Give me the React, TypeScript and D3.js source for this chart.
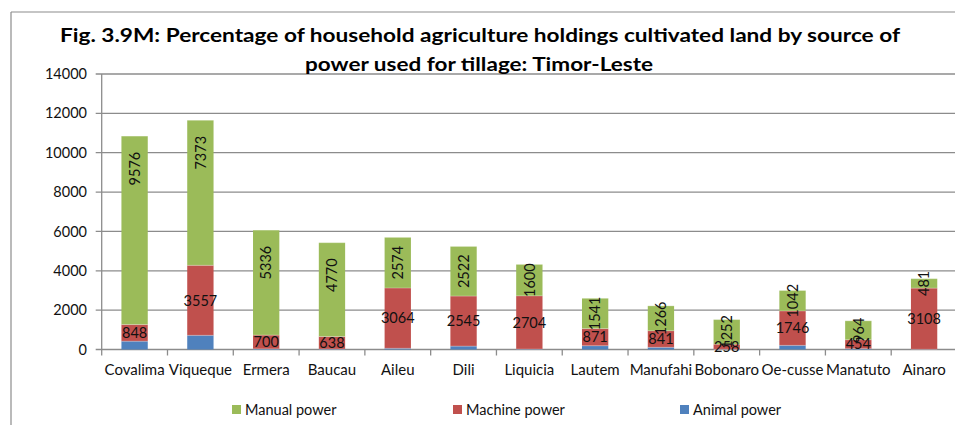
import React from "react";
import * as d3 from "d3";

const categories = ["Covalima", "Viqueque", "Ermera", "Baucau", "Aileu", "Dili", "Liquicia", "Lautem", "Manufahi", "Bobonaro", "Oe-cusse", "Manatuto", "Ainaro"];
const animalPower = [420, 720, 30, 20, 60, 170, 20, 190, 110, 10, 210, 40, 10];
const machinePower = [848, 3557, 700, 638, 3064, 2545, 2704, 871, 841, 258, 1746, 454, 3108];
const manualPower = [9576, 7373, 5336, 4770, 2574, 2522, 1600, 1541, 1266, 1252, 1042, 964, 481];
const yTicks = [0, 2000, 4000, 6000, 8000, 10000, 12000, 14000];
const seriesNames = ["Manual power", "Machine power", "Animal power"];
const titleLines = [
  "Fig. 3.9M: Percentage of household agriculture holdings cultivated land  by source of",
  "power used for tillage: Timor-Leste",
];

const COLORS: Record<string, string> = {
  "Animal power": "#4F81BD",
  "Machine power": "#C0504D",
  "Manual power": "#9BBB59",
};

const FONT = "Lato, 'Open Sans', sans-serif";

export default function App() {
  const W = 955;
  const H = 425;
  const left = 101.7;
  const right = 957;
  const y0 = 349.5;
  const yTop = 74;

  const x = d3.scaleBand<string>().domain(categories).range([left, right]).paddingInner(0.6).paddingOuter(0.3);
  const y = d3.scaleLinear().domain([0, 14000]).range([y0, yTop]);
  const step = x.step();
  const bw = x.bandwidth();

  const rows = categories.map((c, i) => ({
    cat: c,
    "Animal power": animalPower[i],
    "Machine power": machinePower[i],
    "Manual power": manualPower[i],
  }));
  const stack = d3.stack<any>().keys(["Animal power", "Machine power", "Manual power"]);
  const series = stack(rows);

  const grid = "#8c8c8c";
  const ink = "#111";

  return (
    <svg width={W} height={H} style={{ position: "absolute", left: 0, top: 0, background: "#fff" }} fontFamily={FONT}>
      <rect x={0} y={0} width={W} height={H} fill="#fff" />
      {/* outer frame */}
      <line x1={11} y1={12} x2={W} y2={12} stroke={grid} strokeWidth={1.2} />
      <line x1={11} y1={12} x2={11} y2={H} stroke={grid} strokeWidth={1.2} />

      {/* gridlines */}
      {yTicks.map((t) => (
        <g key={t}>
          <line x1={left - 6} x2={right} y1={y(t)} y2={y(t)} stroke={grid} strokeWidth={1.3} />
          <text x={87} y={y(t)} dy="0.35em" textAnchor="end" fontSize={14.5} fill={ink}>
            {t}
          </text>
        </g>
      ))}
      {/* y axis */}
      <line x1={left} x2={left} y1={yTop} y2={y0} stroke={grid} strokeWidth={1.3} />
      {/* x ticks */}
      {d3.range(categories.length + 1).map((i) => {
        const xx = left + i * step;
        return <line key={i} x1={xx} x2={xx} y1={y0} y2={y0 + 6} stroke={grid} strokeWidth={1.3} />;
      })}

      {/* bars */}
      {series.map((s) => (
        <g key={s.key} fill={COLORS[s.key]}>
          {s.map((d, i) => (
            <rect
              key={i}
              x={x(categories[i])!}
              y={y(d[1])}
              width={bw}
              height={Math.max(0, y(d[0]) - y(d[1]))}
            />
          ))}
        </g>
      ))}
      {series.map((s) => (
        <g key={"sep" + s.key}>
          {s.map((d, i) => (
            <line
              key={i}
              x1={x(categories[i])!}
              x2={x(categories[i])! + bw}
              y1={y(d[1])}
              y2={y(d[1])}
              stroke="#ffffff"
              strokeOpacity={0.35}
              strokeWidth={0.8}
            />
          ))}
        </g>
      ))}

      {/* labels: machine horizontal, centred */}
      {series[1].map((d, i) => {
        const cx = x(categories[i])! + bw / 2;
        const cy = (y(d[0]) + y(d[1])) / 2;
        return (
          <text key={"m" + i} x={cx} y={cy} dy="0.36em" textAnchor="middle" fontSize={14.5} fill={ink}>
            {machinePower[i]}
          </text>
        );
      })}
      {/* labels: manual rotated, near the inside end */}
      {series[2].map((d, i) => {
        const cx = x(categories[i])! + bw / 2;
        const top = y(d[1]);
        const mid = (y(d[0]) + y(d[1])) / 2;
        const cy = Math.min(mid, top + 32.5);
        return (
          <text
            key={"g" + i}
            transform={`translate(${cx},${cy}) rotate(-90)`}
            dy="0.36em"
            textAnchor="middle"
            fontSize={14.5}
            fill={ink}
          >
            {manualPower[i]}
          </text>
        );
      })}

      {/* category labels */}
      {categories.map((c) => (
        <text key={c} x={x(c)! + bw / 2} y={375} textAnchor="middle" fontSize={15} fill={ink}>
          {c}
        </text>
      ))}

      {/* title */}
      <text x={480} y={42} textAnchor="middle" fontSize={19.5} fontWeight="bold" fill="#000" textLength={840} lengthAdjust="spacingAndGlyphs">
        {titleLines[0]}
      </text>
      <text x={479} y={71} textAnchor="middle" fontSize={19.5} fontWeight="bold" fill="#000" textLength={348} lengthAdjust="spacingAndGlyphs">
        {titleLines[1]}
      </text>

      {/* legend */}
      {seriesNames.map((n, i) => {
        const sx = [232, 453, 680][i];
        return (
          <g key={n}>
            <rect x={sx} y={405} width={9} height={9} fill={COLORS[n]} />
            <text x={sx + 13} y={415} fontSize={14.5} fill={ink}>
              {n}
            </text>
          </g>
        );
      })}
    </svg>
  );
}
